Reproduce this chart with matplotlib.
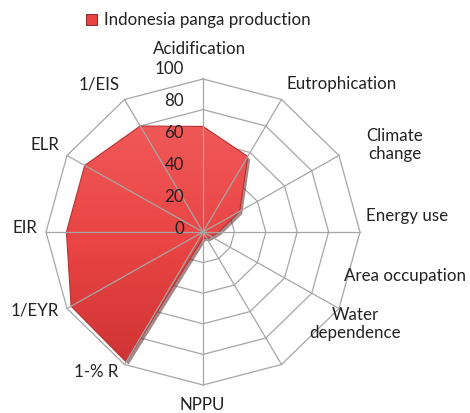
import numpy as np
import matplotlib
matplotlib.use("Agg")
import matplotlib.pyplot as plt
from matplotlib.patches import Polygon, Rectangle
from matplotlib.colors import LinearSegmentedColormap

categories = ["Acidification", "Eutrophication", "Climate\nchange", "Energy use",
              "Area occupation", "Water\ndependence", "NPPU", "1-% R",
              "1/EYR", "EIR", "ELR", "1/EIS"]
values = [69, 57, 27, 10, 6, 5, 4, 98, 97, 87, 87, 80]
ticks = [0, 20, 40, 60, 80, 100]
series_name = "Indonesia panga production"

W, H = 470, 414
fig = plt.figure(figsize=(W / 100, H / 100), dpi=100)
ax = fig.add_axes([0, 0, 1, 1])
cx, cy = 203, 233
sx, sy = 1.57, 1.53
ax.axis("off")

n = len(categories)
theta = np.arange(n) * 2 * np.pi / n

def xy(r, th):
    return r * np.sin(th), r * np.cos(th)

grid_c = "#a6a6a6"
for t in ticks[1:]:
    th = np.append(theta, theta[0])
    gx, gy = xy(np.full(th.shape, t), th)
    ax.plot(gx, gy, color=grid_c, lw=0.9, zorder=1)

v = np.array(values, dtype=float)
px, py = xy(v, theta)
pts = np.column_stack([px, py])

shadow = Polygon(pts + np.array([1.6, -1.8]), closed=True, facecolor="#5a2626",
                 edgecolor="none", alpha=0.55, zorder=2)
ax.add_patch(shadow)
poly = Polygon(pts, closed=True, facecolor="none", edgecolor="#b83232", lw=0.8, zorder=4)
ax.add_patch(poly)
cmap = LinearSegmentedColormap.from_list("g", ["#d03434", "#ea4444", "#f05858"])
grad = np.linspace(0, 1, 256).reshape(-1, 1)
im = ax.imshow(grad, cmap=cmap, origin="lower", aspect="auto",
               extent=[px.min(), px.max(), py.min(), py.max()], zorder=3)
clip = Polygon(pts, closed=True, transform=ax.transData)
im.set_clip_path(clip)
ax.set_xlim(-cx / sx, (W - cx) / sx)
ax.set_ylim(-(H - cy) / sy, cy / sy)

for th in theta:
    ex, ey = xy(100, th)
    ax.plot([0, ex], [0, ey], color=grid_c, lw=0.9, zorder=5)

font = ["Lato", "DejaVu Sans"]
tc = "#222222"
fs = 12.2

def ftext(x, y, s, **kw):
    fig.text(x / W, 1 - y / H, s, family=font, color=tc, fontsize=fs,
             va="center", **kw)

label_pos = [(200, 49), (342, 84), (395, 145), (407, 216), (405, 276), (355, 324),
             (202, 405), (96, 372), (35, 311), (24.5, 228), (44.5, 145), (99, 84)]
for lab, (lx, lyy) in zip(categories, label_pos):
    ftext(lx, lyy, lab, ha="center", multialignment="center", linespacing=1.15)

for t in ticks:
    ftext(184, 229 - 1.6 * t, str(t), ha="right")

sq = 11
fig.patches.append(Rectangle(((91.5 - sq / 2) / W, 1 - (20 + sq / 2) / H), sq / W, sq / H,
                             transform=fig.transFigure, facecolor="#e84444",
                             edgecolor="#8a2a2a", lw=0.7))
ftext(104, 20, series_name, ha="left")

fig.savefig("out.png", dpi=100)
